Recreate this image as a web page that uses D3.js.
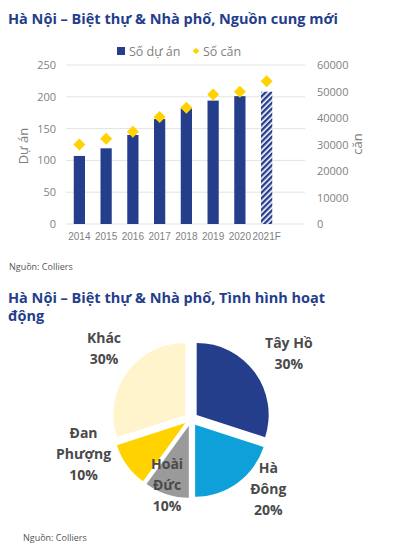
<!DOCTYPE html>
<html><head><meta charset="utf-8">
<script src="https://cdn.jsdelivr.net/npm/d3@7"></script>
<style>body{margin:0;background:#fff;font-family:"Open Sans",sans-serif}</style>
</head><body>
<svg id="c" width="408" height="555"></svg>
<script>
// dữ liệu
const years = ["2014","2015","2016","2017","2018","2019","2020","2021F"];
const projects = [107,119,140,165,182,194,201,208];
const units = [30000,32200,34800,40400,43900,48900,49900,53900];
const leftTicks = [0,50,100,150,200,250];
const rightTicks = [0,10000,20000,30000,40000,50000,60000];
const areas = ["Tây Hồ","Hà Đông","Hoài Đức","Đan Phượng","Khác"];
const shares = [30,20,10,10,30];
const pieColors = ["#243e8c","#0ea0d8","#9a9a9a","#ffd200","#fff4cc"];

const svg = d3.select("#c");
const navy = "#243e8c", grey = "#7f7f7f";

svg.append("text").attr("x",8).attr("y",24).attr("fill",navy)
  .attr("font-size",14.5).attr("font-weight",700).text("Hà Nội – Biệt thự & Nhà phố, Nguồn cung mới");

// pattern cho 2021F
const defs = svg.append("defs");
const pat = defs.append("pattern").attr("id","hatch").attr("width",4).attr("height",4)
  .attr("patternUnits","userSpaceOnUse").attr("patternTransform","rotate(45)");
pat.append("rect").attr("width",4).attr("height",4).attr("fill","#fff");
pat.append("rect").attr("width",2.4).attr("height",4).attr("fill",navy);

const x = d3.scaleBand().domain(years).range([66,280]).paddingInner(0.58).paddingOuter(0.29);
const yL = d3.scaleLinear().domain([0,250]).range([224,65]);
const yR = d3.scaleLinear().domain([0,60000]).range([224,65]);

svg.append("g").selectAll("line").data(leftTicks).join("line")
  .attr("x1",66).attr("x2",305).attr("y1",d=>yL(d)).attr("y2",d=>yL(d))
  .attr("stroke","#e3e3e3");

const axL = svg.append("g").attr("transform","translate(56,0)")
  .call(d3.axisLeft(yL).tickValues(leftTicks).tickSize(0).tickPadding(0));
const axR = svg.append("g").attr("transform","translate(317,0)")
  .call(d3.axisRight(yR).tickValues(rightTicks).tickFormat(d3.format("d")).tickSize(0).tickPadding(0));
[axL,axR].forEach(a=>{a.select(".domain").remove();
  a.selectAll("text").attr("fill",grey).attr("font-size",11).attr("font-family","Open Sans");});

svg.append("g").selectAll("rect").data(years).join("rect")
  .attr("x",d=>x(d)).attr("width",x.bandwidth())
  .attr("y",(d,i)=>yL(projects[i])).attr("height",(d,i)=>yL(0)-yL(projects[i]))
  .attr("fill",(d,i)=>i===years.length-1?"url(#hatch)":navy);

const sym = d3.symbol().type(d3.symbolSquare).size(72);
svg.append("g").selectAll("path").data(years).join("path")
  .attr("d",sym).attr("fill","#ffd200")
  .attr("transform",(d,i)=>`translate(${x(d)+x.bandwidth()/2},${yR(units[i])}) rotate(45)`);

const axX = svg.append("g").attr("transform","translate(0,233)")
  .call(d3.axisBottom(x).tickSize(0).tickPadding(0));
axX.select(".domain").remove();
axX.selectAll("text").attr("fill",grey).attr("font-size",10).attr("dy","0.7em");

svg.append("text").attr("transform","translate(28,146) rotate(-90)").attr("text-anchor","middle")
  .attr("fill",grey).attr("font-size",13).text("Dự án");
svg.append("text").attr("transform","translate(362,144) rotate(-90)").attr("text-anchor","middle")
  .attr("fill",grey).attr("font-size",13).text("căn");

// legend
svg.append("rect").attr("x",117).attr("y",47).attr("width",8).attr("height",8).attr("fill",navy);
svg.append("text").attr("x",129).attr("y",55.5).attr("fill",grey).attr("font-size",12.5).text("Số dự án");
svg.append("path").attr("d",d3.symbol().type(d3.symbolSquare).size(22)).attr("fill","#ffd200")
  .attr("transform","translate(196,51) rotate(45)");
svg.append("text").attr("x",203).attr("y",55.5).attr("fill",grey).attr("font-size",12.5).text("Số căn");

svg.append("text").attr("x",9).attr("y",270).attr("fill","#555").attr("font-size",9).text("Nguồn: Colliers");

// pie
const t2 = svg.append("text").attr("fill",navy).attr("font-size",14.5).attr("font-weight",700);
t2.append("tspan").attr("x",8).attr("y",303).text("Hà Nội – Biệt thự & Nhà phố, Tình hình hoạt");
t2.append("tspan").attr("x",8).attr("y",321).text("động");

const cx = 191, cy = 419, R = 72;
const pie = d3.pie().sort(null).value(d=>d)(shares);
const arc = d3.arc().innerRadius(0).outerRadius(R);
const g = svg.append("g").attr("transform",`translate(${cx},${cy})`);
g.selectAll("path").data(pie).join("path")
  .attr("d",arc).attr("fill",(d,i)=>pieColors[i])
  .attr("transform",d=>{const a=(d.startAngle+d.endAngle)/2;return `translate(${7*Math.sin(a)},${-7*Math.cos(a)})`;});

// vị trí nhãn: [bán kính, góc (độ)]
const labelPos = [[118,56],[104,132],[70,200],[113,252],[112,309]];
const labelText = [["Tây Hồ"],["Hà","Đông"],["Hoài","Đức"],["Đan","Phượng"],["Khác"]];
labelText.forEach((lines,i)=>{
  const [r,ang]=labelPos[i], a=ang*Math.PI/180;
  const lx=r*Math.sin(a), ly=-r*Math.cos(a);
  const all=lines.concat([shares[i]+"%"]);
  const t=g.append("text").attr("text-anchor","middle").attr("fill","#4a4a4a")
    .attr("font-size",14).attr("font-weight",700);
  all.forEach((s,k)=>t.append("tspan").attr("x",lx).attr("y",ly+(k-(all.length-1)/2)*21+5).text(s));
});

svg.append("text").attr("x",23).attr("y",541).attr("fill","#555").attr("font-size",9).text("Nguồn: Colliers");
</script>
</body></html>
